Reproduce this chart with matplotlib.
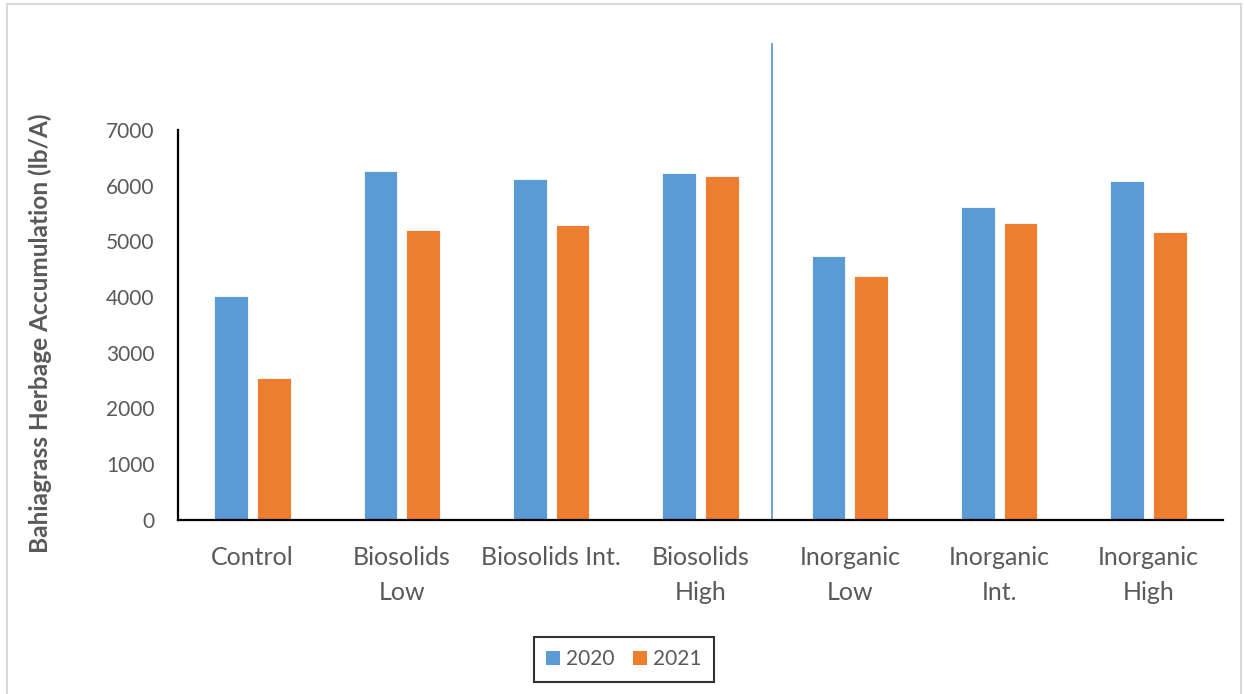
import matplotlib
matplotlib.use("Agg")
import matplotlib.pyplot as plt
from matplotlib.patches import Rectangle, Patch
import numpy as np

categories = ["Control", "Biosolids\nLow", "Biosolids Int.", "Biosolids\nHigh",
              "Inorganic\nLow", "Inorganic\nInt.", "Inorganic\nHigh"]
series_names = ["2020", "2021"]
values_2020 = [4020, 6265, 6125, 6225, 4740, 5615, 6075]
values_2021 = [2545, 5195, 5290, 6180, 4380, 5330, 5165]
y_ticks = [0, 1000, 2000, 3000, 4000, 5000, 6000, 7000]

blue = "#5B9BD5"
orange = "#ED7D31"
text_grey = "#595959"

plt.rcParams["font.family"] = ["Lato", "DejaVu Sans"]

fig = plt.figure(figsize=(12.44, 6.94), dpi=100)
ax = fig.add_axes([178 / 1244, 1 - 519.5 / 694, (1223 - 178) / 1244, 389.5 / 694])

x = np.arange(len(categories))
width = 0.226
offset = 0.143
ax.bar(x - offset, values_2020, width, color=blue, edgecolor="white", linewidth=0.6,
       label=series_names[0])
ax.bar(x + offset, values_2021, width, color=orange, edgecolor="white", linewidth=0.6,
       label=series_names[1])

ax.set_xlim(-0.5, len(categories) - 0.5)
ax.set_ylim(0, 7000)
ax.set_yticks(y_ticks)
ax.set_yticklabels([str(t) for t in y_ticks])
ax.set_xticks(x)
ax.set_xticklabels(categories, linespacing=1.65)

ax.tick_params(axis="y", length=0, pad=17, labelsize=15, labelcolor=text_grey)
ax.tick_params(axis="x", length=0, pad=19, labelsize=18, labelcolor=text_grey)

for side in ("top", "right"):
    ax.spines[side].set_visible(False)
ax.spines["left"].set_linewidth(1.6)
ax.spines["bottom"].set_linewidth(1.6)
ax.spines["left"].set_color("black")
ax.spines["bottom"].set_color("black")

# divider between biosolids and inorganic treatments
ax.plot([3.48, 3.48], [0, 8550], color=blue, linewidth=1.3, clip_on=False, zorder=1)

ax.set_ylabel("Bahiagrass Herbage Accumulation (lb/A)", fontsize=17.6, fontweight="bold",
              color=text_grey)
ax.yaxis.set_label_coords(-0.1206, 0.4775)

handles = [Patch(facecolor=blue, label=series_names[0]),
           Patch(facecolor=orange, label=series_names[1])]
leg = fig.legend(handles=handles, loc="center", bbox_to_anchor=(624 / 1244, 1 - 659 / 694),
                 ncol=2, frameon=True, fancybox=False, fontsize=15, handlelength=0.65,
                 handleheight=0.65, handletextpad=0.3, columnspacing=0.9, borderpad=0.6,
                 labelcolor=text_grey)
leg.get_frame().set_edgecolor("black")
leg.get_frame().set_linewidth(1.5)

# outer chart-area frame
fig.patches.append(Rectangle((7 / 1244, -0.01), (1241 - 7) / 1244, 1.01 - 4 / 694,
                             transform=fig.transFigure, fill=False,
                             edgecolor="#d9d9d9", linewidth=1.5))

fig.savefig("out.png", dpi=100)
